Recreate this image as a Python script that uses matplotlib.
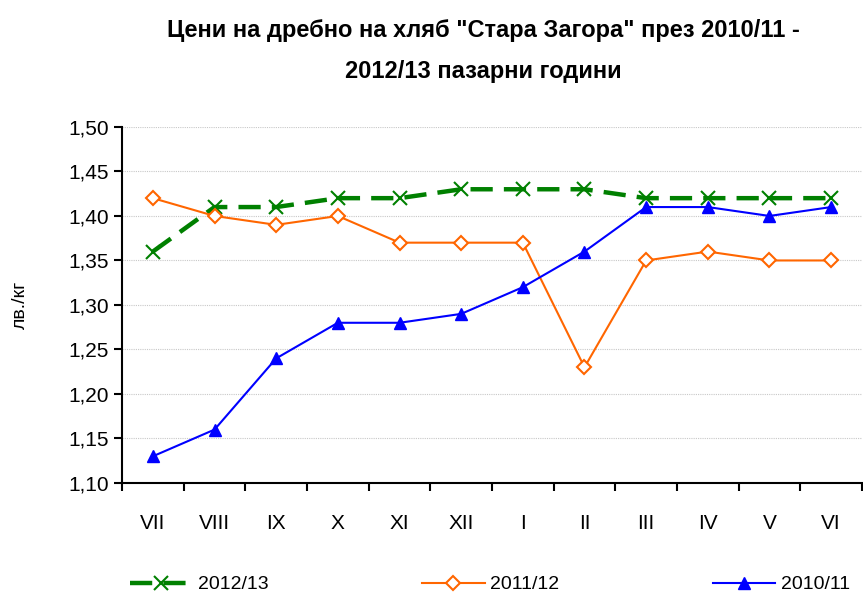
import matplotlib
matplotlib.use("Agg")
import matplotlib.pyplot as plt
import numpy as np

plt.rcParams['font.family'] = ['Liberation Sans Narrow', 'Liberation Sans', 'DejaVu Sans']

months = ["VII", "VIII", "IX", "X", "XI", "XII", "I", "II", "III", "IV", "V", "VI"]
s_2012 = [1.36, 1.41, 1.41, 1.42, 1.42, 1.43, 1.43, 1.43, 1.42, 1.42, 1.42, 1.42]
s_2011 = [1.42, 1.40, 1.39, 1.40, 1.37, 1.37, 1.37, 1.23, 1.35, 1.36, 1.35, 1.35]
s_2010 = [1.13, 1.16, 1.24, 1.28, 1.28, 1.29, 1.32, 1.36, 1.41, 1.41, 1.40, 1.41]
yticks = [1.10, 1.15, 1.20, 1.25, 1.30, 1.35, 1.40, 1.45, 1.50]

fig = plt.figure(figsize=(8.63, 5.96), dpi=100)
ax = fig.add_axes([0.1414, 0.1896, 0.8574, 0.5974])

x = np.arange(len(months))
ax.plot(x, s_2012, color="#008000", lw=3.2, linestyle=(0, (5, 2.5)),
        marker="x", markersize=10, markeredgewidth=1.5, label="2012/13", zorder=3)
ax.plot(x, s_2011, color="#FF6600", lw=1.5, marker="D", markersize=7,
        markerfacecolor="white", markeredgecolor="#FF6600", markeredgewidth=1.5,
        label="2011/12", zorder=4)
ax.plot(x, s_2010, color="#0000FF", lw=1.5, marker="^", markersize=9,
        markeredgecolor="#0000FF", label="2010/11", zorder=5)

ax.set_xlim(-0.5, len(months) - 0.5)
ax.set_ylim(1.10, 1.50)
ax.set_yticks(yticks)
ax.set_yticklabels([f"{v:.2f}".replace(".", ",") for v in yticks], fontsize=15)
ax.set_xticks(np.arange(-0.5, len(months), 1.0))
ax.set_xticklabels([])
ax.set_xticks(x, minor=True)
ax.set_xticklabels(months, minor=True, fontsize=15)
ax.tick_params(axis="x", which="minor", length=0, pad=22)
ax.tick_params(axis="both", which="major", direction="out", length=6, width=1.5)
ax.yaxis.grid(True, color="#C8C8C8", linestyle=(0, (1, 1)), lw=0.8)
ax.set_axisbelow(True)
for s in ["top", "right"]:
    ax.spines[s].set_visible(False)
for s in ["left", "bottom"]:
    ax.spines[s].set_linewidth(1.5)

ax.set_ylabel("лв./кг", fontsize=14, labelpad=28)

fig.text(0.56, 0.968, 'Цени на дребно на хляб "Стара Загора" през 2010/11 -\n2012/13 пазарни години',
         ha="center", va="top", fontsize=17, fontweight="bold", linespacing=2.0)

fig.legend(loc="lower center", bbox_to_anchor=(0.568, -0.025), ncol=3, frameon=False,
           fontsize=14, columnspacing=7.9, handlelength=3.2, handletextpad=0.3)

fig.savefig("out.png", dpi=100)
